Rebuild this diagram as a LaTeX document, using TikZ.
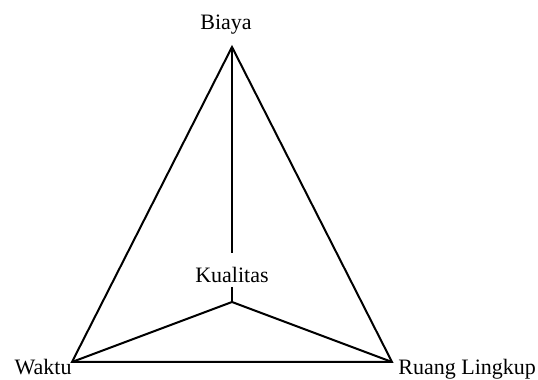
\documentclass[tikz,border=0pt]{standalone}
\usepackage{fontspec}
\setmainfont{Liberation Serif}
\usetikzlibrary{positioning}
\tikzset{
  edge/.style={line width=1pt,black},
  lbl/.style={font=\fontsize{11}{13}\selectfont,inner sep=0pt,anchor=base}
}
\begin{document}
\begin{tikzpicture}[x=0.5pt,y=-0.5pt]
\useasboundingbox (0,0) rectangle (538,380);
% corners of the triangle
\coordinate (ptop) at (232,47);
\coordinate (pleft) at (72,362);
\coordinate (pright) at (392,362);
\coordinate (pmid) at (232,302);
\coordinate (kupper) at (232,253);
\coordinate (klower) at (232,287);
% labels
\node[lbl] (biaya) at (226,30) {Biaya};
\node[lbl] (kualitas) at (232,283) {Kualitas};
\node[lbl,anchor=base east] (waktu) at (72,375) {Waktu};
\node[lbl,anchor=base west] (ruang) at (398,375) {Ruang Lingkup};
% lines
\draw[edge] (ptop) -- (pleft) -- (pright) -- cycle;
\draw[edge] (ptop) -- (kupper);
\draw[edge] (klower) -- (pmid);
\draw[edge] (pleft) -- (pmid) -- (pright);
\end{tikzpicture}
\end{document}
